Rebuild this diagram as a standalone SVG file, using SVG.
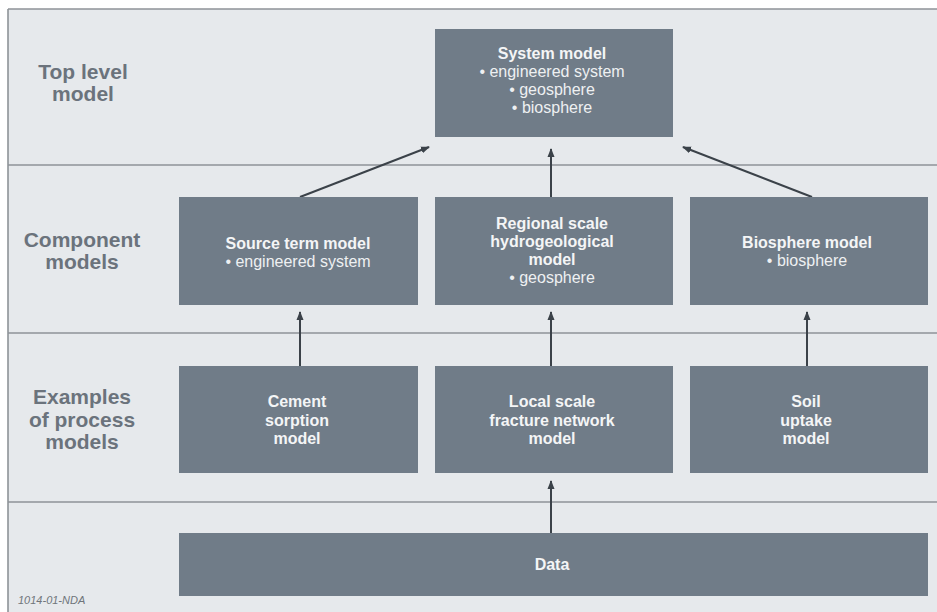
<svg xmlns="http://www.w3.org/2000/svg" width="937" height="612" viewBox="0 0 937 612">
  <style>
    .band { fill: #e6e9ec; }
    .rule { stroke: #8e9398; stroke-width: 1.6; fill: none; }
    .box { fill: #707c88; }
    .hd { font-family: "Liberation Sans", Arial, sans-serif; font-weight: bold; font-size: 16px; fill: #f4f5f6; text-anchor: middle; }
    .it { font-family: "Liberation Sans", Arial, sans-serif; font-size: 16px; fill: #eef0f2; text-anchor: middle; }
    .lvl { font-family: "Liberation Sans", Arial, sans-serif; font-weight: bold; font-size: 21px; fill: #6b737c; text-anchor: middle; }
    .ref { font-family: "Liberation Sans", Arial, sans-serif; font-style: italic; font-size: 11px; fill: #6f757b; }
    .conn { stroke: #3b4249; stroke-width: 2; fill: none; marker-end: url(#ah); }
  </style>
  <defs>
    <marker id="ah" markerUnits="userSpaceOnUse" markerWidth="9" markerHeight="9" viewBox="0 0 9 9" refX="8" refY="4.5" orient="auto">
      <path d="M0,1 L9,4.5 L0,8 z" fill="#3b4249"/>
    </marker>
  </defs>

  <!-- page background and frame -->
  <rect x="0" y="0" width="937" height="612" fill="#ffffff"/>
  <rect class="band" x="8" y="9" width="929" height="603"/>
  <path class="rule" d="M8,9 H937 M8,9 V612"/>
  <!-- level dividers -->
  <path class="rule" d="M8,165 H937 M8,333 H937 M8,502 H937"/>

  <!-- level labels -->
  <g id="level-labels">
    <text class="lvl" x="83" y="79">Top level</text>
    <text class="lvl" x="83" y="101">model</text>
    <text class="lvl" x="82" y="247">Component</text>
    <text class="lvl" x="82" y="269">models</text>
    <text class="lvl" x="82" y="404">Examples</text>
    <text class="lvl" x="82" y="427">of process</text>
    <text class="lvl" x="82" y="449">models</text>
  </g>

  <!-- connectors -->
  <g id="connectors">
    <line class="conn" x1="300" y1="197" x2="429" y2="147"/>
    <line class="conn" x1="551" y1="197" x2="551" y2="149"/>
    <line class="conn" x1="812" y1="197" x2="683" y2="147"/>
    <line class="conn" x1="300" y1="366" x2="300" y2="312"/>
    <line class="conn" x1="551" y1="366" x2="551" y2="312"/>
    <line class="conn" x1="807" y1="366" x2="807" y2="312"/>
    <line class="conn" x1="551" y1="533" x2="551" y2="481"/>
  </g>

  <g id="system-model">
    <rect class="box" x="435" y="29" width="238" height="108"/>
    <text class="hd" x="552" y="59">System model</text>
    <text class="it" x="552" y="77">• engineered system</text>
    <text class="it" x="552" y="95">• geosphere</text>
    <text class="it" x="552" y="113">• biosphere</text>
  </g>

  <g id="source-term-model">
    <rect class="box" x="179" y="197" width="239" height="108"/>
    <text class="hd" x="298" y="249">Source term model</text>
    <text class="it" x="298" y="267">• engineered system</text>
  </g>

  <g id="regional-model">
    <rect class="box" x="435" y="197" width="238" height="108"/>
    <text class="hd" x="552" y="229">Regional scale</text>
    <text class="hd" x="552" y="247">hydrogeological</text>
    <text class="hd" x="552" y="265">model</text>
    <text class="it" x="552" y="283">• geosphere</text>
  </g>

  <g id="biosphere-model">
    <rect class="box" x="690" y="197" width="238" height="108"/>
    <text class="hd" x="807" y="248">Biosphere model</text>
    <text class="it" x="807" y="266">• biosphere</text>
  </g>

  <g id="cement-model">
    <rect class="box" x="179" y="366" width="239" height="107"/>
    <text class="hd" x="297" y="407">Cement</text>
    <text class="hd" x="297" y="426">sorption</text>
    <text class="hd" x="297" y="444">model</text>
  </g>

  <g id="fracture-model">
    <rect class="box" x="435" y="366" width="238" height="107"/>
    <text class="hd" x="552" y="407">Local scale</text>
    <text class="hd" x="552" y="426">fracture network</text>
    <text class="hd" x="552" y="444">model</text>
  </g>

  <g id="soil-model">
    <rect class="box" x="690" y="366" width="238" height="107"/>
    <text class="hd" x="806" y="407">Soil</text>
    <text class="hd" x="806" y="426">uptake</text>
    <text class="hd" x="806" y="444">model</text>
  </g>

  <g id="data">
    <rect class="box" x="179" y="533" width="749" height="63"/>
    <text class="hd" x="552" y="570">Data</text>
  </g>

  <text class="ref" x="18" y="604">1014-01-NDA</text>
</svg>
